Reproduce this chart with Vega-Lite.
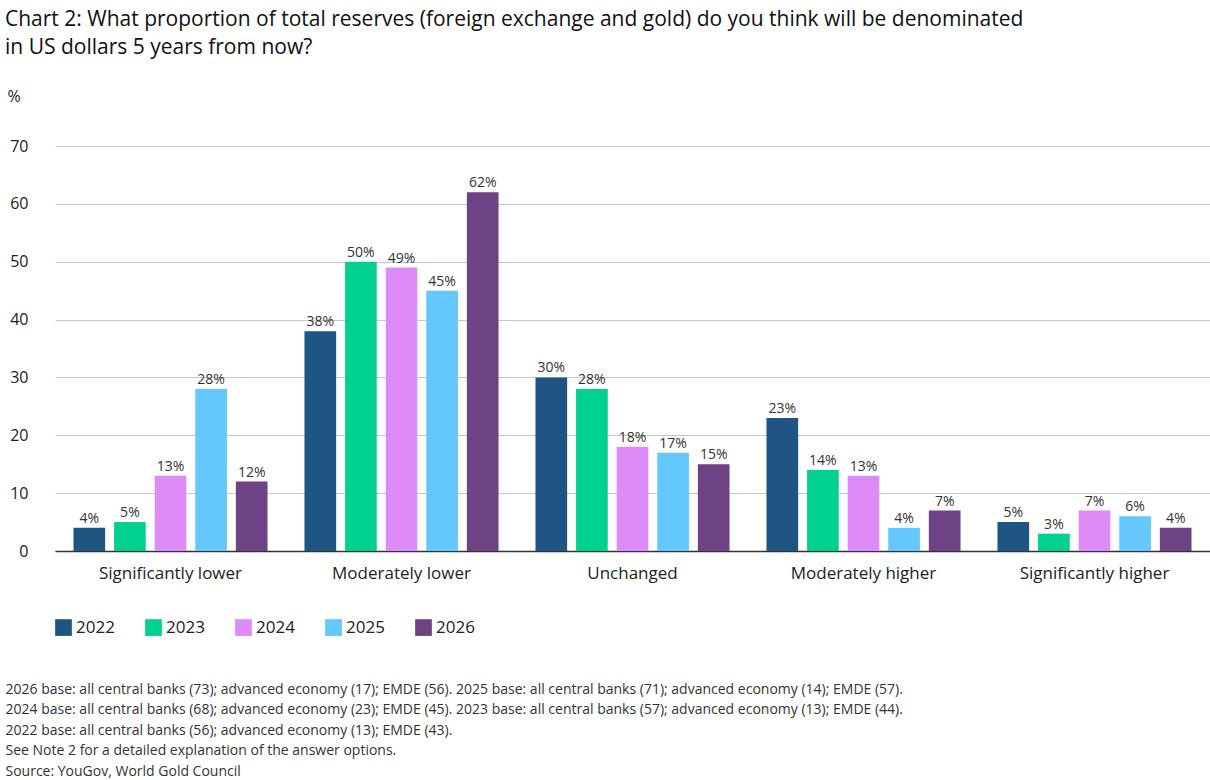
{
  "$schema": "https://vega.github.io/schema/vega-lite/v6.json",
  "autosize": "none",
  "width": 1155,
  "height": 405,
  "padding": {"left": 55, "top": 146, "right": 0, "bottom": 229},
  "background": "white",
  "title": {
    "text": ["Chart 2: What proportion of total reserves (foreign exchange and gold) do you think will be denominated", "in US dollars 5 years from now?"],
    "anchor": "start", "frame": "group", "dx": -50, "offset": 30,
    "font": "Open Sans", "fontSize": 21, "fontWeight": "normal", "color": "#111", "lineHeight": 28
  },
  "data": {"values": [
    {"c": "Significantly lower", "y": "2022", "v": 4}, {"c": "Significantly lower", "y": "2023", "v": 5}, {"c": "Significantly lower", "y": "2024", "v": 13}, {"c": "Significantly lower", "y": "2025", "v": 28}, {"c": "Significantly lower", "y": "2026", "v": 12},
    {"c": "Moderately lower", "y": "2022", "v": 38}, {"c": "Moderately lower", "y": "2023", "v": 50}, {"c": "Moderately lower", "y": "2024", "v": 49}, {"c": "Moderately lower", "y": "2025", "v": 45}, {"c": "Moderately lower", "y": "2026", "v": 62},
    {"c": "Unchanged", "y": "2022", "v": 30}, {"c": "Unchanged", "y": "2023", "v": 28}, {"c": "Unchanged", "y": "2024", "v": 18}, {"c": "Unchanged", "y": "2025", "v": 17}, {"c": "Unchanged", "y": "2026", "v": 15},
    {"c": "Moderately higher", "y": "2022", "v": 23}, {"c": "Moderately higher", "y": "2023", "v": 14}, {"c": "Moderately higher", "y": "2024", "v": 13}, {"c": "Moderately higher", "y": "2025", "v": 4}, {"c": "Moderately higher", "y": "2026", "v": 7},
    {"c": "Significantly higher", "y": "2022", "v": 5}, {"c": "Significantly higher", "y": "2023", "v": 3}, {"c": "Significantly higher", "y": "2024", "v": 7}, {"c": "Significantly higher", "y": "2025", "v": 6}, {"c": "Significantly higher", "y": "2026", "v": 4}
  ]},
  "transform": [{"calculate": "datum.v + '%'", "as": "label"}],
  "encoding": {
    "x": {
      "field": "c", "type": "nominal", "sort": null,
      "scale": {"paddingInner": 0.16, "paddingOuter": 0.08},
      "axis": {
        "labelAngle": 0, "labelFont": "Open Sans", "labelFontSize": 17, "labelColor": "#222", "labelPadding": 14,
        "ticks": false, "domainColor": "#333", "domainWidth": 1.5,
        "title": ["2026 base: all central banks (73); advanced economy (17); EMDE (56). 2025 base: all central banks (71); advanced economy (14); EMDE (57).", "2024 base: all central banks (68); advanced economy (23); EMDE (45). 2023 base: all central banks (57); advanced economy (13); EMDE (44).", "2022 base: all central banks (56); advanced economy (13); EMDE (43).", "See Note 2 for a detailed explanation of the answer options.", "Source: YouGov, World Gold Council"],
        "titleFont": "Open Sans", "titleFontSize": 14, "titleFontWeight": "normal", "titleColor": "#333",
        "titleAngle": 0, "titleAlign": "left", "titleBaseline": "top", "titleX": -50, "titleY": 131, "titleLineHeight": 20.5
      }
    },
    "xOffset": {"field": "y", "type": "nominal", "scale": {"paddingInner": 0.22}},
    "y": {
      "field": "v", "type": "quantitative", "scale": {"domain": [0, 70]},
      "axis": {
        "values": [0, 10, 20, 30, 40, 50, 60, 70], "labelFont": "Open Sans", "labelFontSize": 16, "labelColor": "#222",
        "ticks": false, "domain": false, "gridColor": "#c8c8c8", "labelPadding": 27,
        "title": "%", "titleAngle": 0, "titleX": -48, "titleY": -42, "titleAlign": "left",
        "titleFont": "Open Sans", "titleFontSize": 16, "titleFontWeight": "normal", "titleColor": "#222"
      }
    }
  },
  "layer": [
    {
      "mark": {"type": "bar"},
      "encoding": {
        "color": {
          "field": "y", "type": "nominal",
          "scale": {"domain": ["2022", "2023", "2024", "2025", "2026"], "range": ["#1f5583", "#00d18f", "#dd8cf7", "#64c8fc", "#6e4385"]},
          "legend": {
            "title": null, "orient": "none", "direction": "horizontal", "legendX": 0, "legendY": 473,
            "symbolType": "square", "symbolSize": 280, "symbolStrokeWidth": 0, "columnPadding": 30,
            "labelFont": "Open Sans", "labelFontSize": 17, "labelColor": "#222"
          }
        }
      }
    },
    {
      "mark": {"type": "text", "dy": -9, "font": "Open Sans", "fontSize": 14, "color": "#333"},
      "encoding": {"text": {"field": "label"}}
    }
  ],
  "config": {"view": {"stroke": null}}
}
